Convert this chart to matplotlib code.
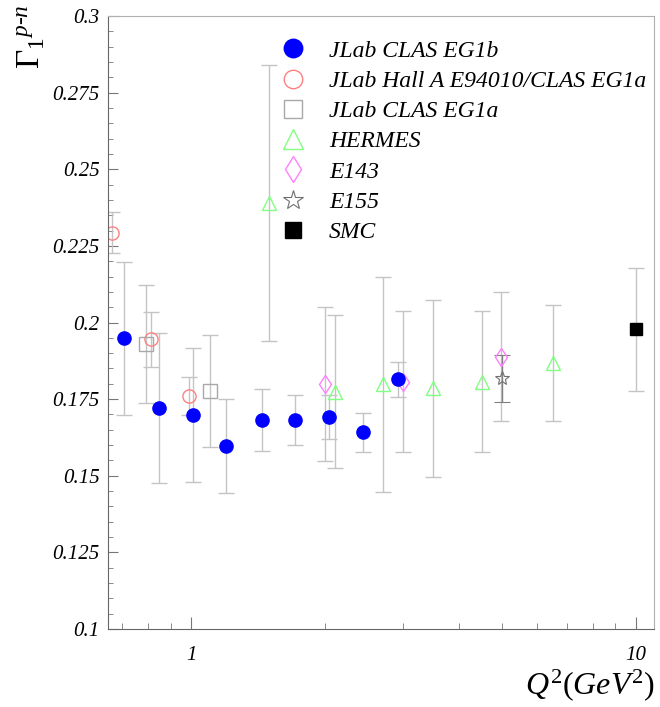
import numpy as np
import matplotlib
matplotlib.use('Agg')
import matplotlib.pyplot as plt
from matplotlib.ticker import FixedLocator, NullFormatter, FuncFormatter

plt.rcParams['font.family'] = 'Liberation Serif'
plt.rcParams['font.style'] = 'italic'
plt.rcParams['mathtext.fontset'] = 'custom'
plt.rcParams['mathtext.rm'] = 'Liberation Serif:style=normal'
plt.rcParams['mathtext.it'] = 'Liberation Serif:style=italic'

# data
eg1b_q2 = [0.707, 0.846, 1.01, 1.20, 1.444, 1.711, 2.047, 2.44, 2.916]
eg1b_g = [0.1949, 0.1722, 0.1698, 0.1597, 0.1682, 0.1682, 0.1693, 0.1642, 0.1815]
eg1b_err = [0.025, 0.0245, 0.022, 0.0154, 0.010, 0.0082, 0.0072, 0.0063, 0.0057]

halla_q2 = [0.663, 0.812, 0.991]
halla_g = [0.2293, 0.1945, 0.1761]
halla_err = [0.0066, 0.009, 0.0062]

eg1a_q2 = [0.791, 1.102]
eg1a_g = [0.1929, 0.1777]
eg1a_err = [0.0193, 0.0183]

hermes_q2 = [1.50, 2.104, 2.70, 3.50, 4.51, 6.51]
hermes_g = [0.2389, 0.1774, 0.1798, 0.1785, 0.1807, 0.1867]
hermes_err = [0.045, 0.025, 0.035, 0.029, 0.023, 0.019]

e143_q2 = [2.0, 2.99, 4.99]
e143_g = [0.1799, 0.1807, 0.1888]
e143_err = [0.025, 0.023, 0.021]

e155_q2 = [5.0]
e155_g = [0.1818]
e155_err = [0.0076]

smc_q2 = [10.0]
smc_g = [0.1978]
smc_err = [0.0201]

fig = plt.figure(figsize=(6.6, 7.07), dpi=100)
ax = fig.add_axes([108/660, 1-629/707, 546/660, 613/707])

ebar = dict(ecolor='#c4c4c4', elinewidth=1.0, capsize=6, capthick=1.0, ls='none')
ms = 9.5

ax.errorbar(halla_q2, halla_g, yerr=halla_err, fmt='o', ms=ms, mfc='none', mec='#ff8080',
            mew=1.0, label='JLab Hall A E94010/CLAS EG1a', **ebar)
ax.errorbar(eg1a_q2, eg1a_g, yerr=eg1a_err, fmt='s', ms=ms, mfc='none', mec='#a8a8a8',
            mew=1.0, label='JLab CLAS EG1a', **ebar)
ax.errorbar(hermes_q2, hermes_g, yerr=hermes_err, fmt='^', ms=ms+1, mfc='none', mec='#80ff80',
            mew=1.0, label='HERMES', **ebar)
ax.errorbar(e143_q2, e143_g, yerr=e143_err, fmt='d', ms=ms, mfc='none', mec='#ff80ff',
            mew=1.0, label='E143', **ebar)
ax.errorbar(e155_q2, e155_g, yerr=e155_err, fmt='*', ms=ms+1, mfc='none', mec='#707070',
            mew=0.8, label='E155', ecolor='#808080', elinewidth=1.0, capsize=6, capthick=1.0, ls='none')
ax.errorbar(smc_q2, smc_g, yerr=smc_err, fmt='s', ms=ms-1, mfc='black', mec='black',
            label='SMC', **ebar)
ax.errorbar(eg1b_q2, eg1b_g, yerr=eg1b_err, fmt='o', ms=ms, mfc='#0000ff', mec='#0000ff',
            label='JLab CLAS EG1b', **ebar)

ax.set_xscale('log')
ax.set_xlim(0.65, 11.0)
ax.set_ylim(0.1, 0.3)

ax.xaxis.set_major_locator(FixedLocator([1, 10]))
ax.xaxis.set_minor_locator(FixedLocator([0.7, 0.8, 0.9, 2, 3, 4, 5, 6, 7, 8, 9]))
ax.xaxis.set_major_formatter(FuncFormatter(lambda v, p: '%g' % v))
ax.xaxis.set_minor_formatter(NullFormatter())
ax.yaxis.set_major_locator(FixedLocator(np.arange(0.1, 0.3001, 0.025)))
ax.yaxis.set_minor_locator(FixedLocator(np.arange(0.1, 0.3001, 0.005)))
ax.yaxis.set_major_formatter(FuncFormatter(lambda v, p: '%g' % round(v, 3)))

ax.tick_params(which='both', direction='in', colors='#777777', labelcolor='black',
               top=False, right=False)
ax.tick_params(axis='y', which='major', length=7, pad=6, labelsize=15)
ax.tick_params(axis='y', which='minor', length=3.5)
ax.tick_params(axis='x', which='major', length=9, pad=12, labelsize=15)
ax.tick_params(axis='x', which='minor', length=4.5)

ax.spines['left'].set_color('#666666')
ax.spines['bottom'].set_color('#666666')
ax.spines['top'].set_color('#b0b0b0')
ax.spines['right'].set_color('#b0b0b0')

handles, labels = ax.get_legend_handles_labels()
order = ['JLab CLAS EG1b', 'JLab Hall A E94010/CLAS EG1a', 'JLab CLAS EG1a',
         'HERMES', 'E143', 'E155', 'SMC']
hmap = dict(zip(labels, handles))
leg = ax.legend([hmap[k][0] for k in order], order, loc='upper left',
                bbox_to_anchor=(0.292, 0.98), frameon=False, markerscale=1.4,
                handlelength=1.2, handletextpad=0.9, labelspacing=0.37,
                borderpad=0, prop={'family': 'Liberation Serif', 'style': 'italic', 'size': 17})

fig.text(32/660, 1-69/707, r'$\Gamma_{\mathit{1}}{}^{p\text{-}n}$', rotation=90,
         ha='center', va='bottom', fontsize=24)
fig.text(655/660, 4/707, r'$Q^{2}(GeV^{2})$', ha='right', va='bottom', fontsize=23)

fig.savefig('out.png', dpi=100)
